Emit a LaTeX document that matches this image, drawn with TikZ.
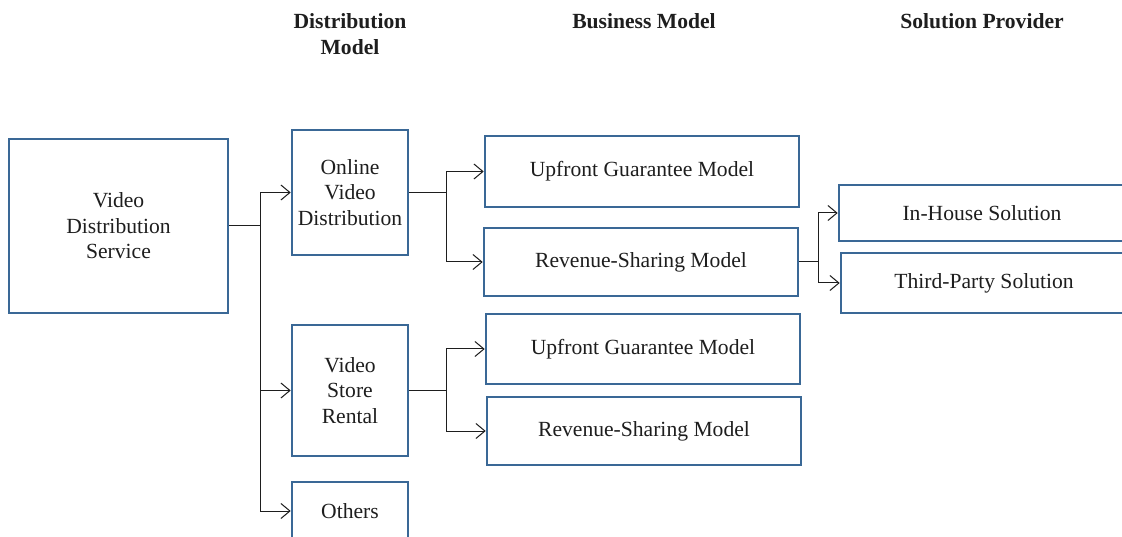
\documentclass[tikz,border=0pt]{standalone}
\usepackage{fontspec}
\setmainfont{Liberation Serif}
\usetikzlibrary{arrows.meta}
\definecolor{boxblue}{HTML}{3A6896}
\definecolor{ink}{HTML}{1E1E1E}
\tikzset{
  box/.style={draw=boxblue, line width=2.6pt, fill=white, align=center,
    inner sep=0pt, text=ink, font=\fontsize{21.6}{25.5}\selectfont},
  head/.style={align=center, text=ink, font=\fontsize{21.6}{26}\selectfont\bfseries},
  link/.style={draw=ink, line width=1pt},
  arr/.style={link, -{Straight Barb[length=9pt,width=15pt,line width=1pt]}},
}
\begin{document}
\begin{tikzpicture}[x=1pt,y=-1pt]
\useasboundingbox (0,0) rectangle (1122,537);
\clip (0,0) rectangle (1122,537);

% column headings
\node[head] (hdist) at (350,34) {Distribution\\Model};
\node[head] (hbus)  at (644,21) {Business Model};
\node[head] (hsol)  at (982,21) {Solution Provider};

% boxes
\node[box, minimum width=219pt, minimum height=174pt] (vds) at (118.5,226) {Video\\Distribution\\Service};
\node[box, minimum width=116pt, minimum height=125pt] (online) at (350,192.5) {Online\\Video\\Distribution};
\node[box, minimum width=116pt, minimum height=131pt] (store) at (350,390.5) {Video\\Store\\Rental};
\node[box, minimum width=116pt, minimum height=58pt] (others) at (350,511) {Others};

\node[box, minimum width=314pt, minimum height=71pt] (up1)  at (642,171.5) {Upfront Guarantee Model};
\node[box, minimum width=314pt, minimum height=68pt] (rev1) at (641,262) {Revenue-Sharing Model};
\node[box, minimum width=314pt, minimum height=70pt] (up2)  at (643,349) {Upfront Guarantee Model};
\node[box, minimum width=314pt, minimum height=68pt] (rev2) at (644,431) {Revenue-Sharing Model};

\node[box, minimum width=286pt, minimum height=56pt] (inhouse) at (982,213) {In-House Solution};
\node[box, minimum width=286pt, minimum height=60pt] (third)   at (984,283) {Third-Party Solution};

% branch points, level with the box they leave
\coordinate (j1) at (vds.east -| 260,0);
\coordinate (j2) at (online.east -| 446,0);
\coordinate (j3) at (store.east -| 446,0);
\coordinate (j4) at (rev1.east -| 818,0);

% connectors
\draw[link] (vds.east) -- (j1);
\draw[arr] (j1) |- (online.west);
\draw[arr] (j1) |- (store.west);
\draw[arr] (j1) |- (others.west);

\draw[link] (online.east) -- (j2);
\draw[arr] (j2) |- (up1.west);
\draw[arr] (j2) |- (rev1.west);

\draw[link] (store.east) -- (j3);
\draw[arr] (j3) |- (up2.west);
\draw[arr] (j3) |- (rev2.west);

\draw[link] (rev1.east) -- (j4);
\draw[arr] (j4) |- (inhouse.west);
\draw[arr] (j4) |- (third.west);
\end{tikzpicture}
\end{document}
